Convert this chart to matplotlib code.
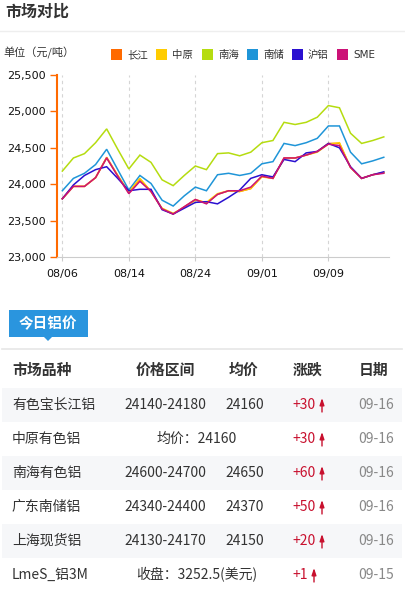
import matplotlib
matplotlib.use("Agg")
import matplotlib.pyplot as plt
from matplotlib.patches import Rectangle, Polygon

plt.rcParams['font.family'] = ['Noto Sans CJK SC', 'DejaVu Sans']

# chart data (yuan/ton), 30 trading days
tick_labels = ["08/06", "08/14", "08/24", "09/01", "09/09"]
changjiang = [23800, 23970, 23970, 24090, 24370, 24120, 23880, 24070, 23900, 23660,
              23590, 23690, 23790, 23740, 23860, 23910, 23900, 23940, 24110, 24080,
              24360, 24360, 24400, 24450, 24560, 24560, 24230, 24080, 24130, 24160]
zhongyuan = [23800, 23970, 23970, 24090, 24360, 24120, 23890, 24080, 23900, 23670,
             23600, 23680, 23780, 23750, 23870, 23910, 23900, 23940, 24100, 24080,
             24350, 24360, 24400, 24440, 24550, 24570, 24230, 24080, 24130, 24160]
nanhai = [24180, 24360, 24420, 24570, 24760, 24480, 24210, 24400, 24300, 24060,
          23980, 24120, 24250, 24200, 24420, 24430, 24390, 24440, 24570, 24600,
          24850, 24820, 24850, 24920, 25080, 25050, 24700, 24560, 24600, 24650]
nanchu = [23910, 24080, 24150, 24270, 24480, 24200, 23920, 24120, 24010, 23780,
          23700, 23840, 23960, 23910, 24130, 24150, 24120, 24150, 24280, 24310,
          24560, 24530, 24570, 24630, 24800, 24800, 24440, 24280, 24320, 24370]
hulv = [23800, 23990, 24120, 24200, 24240, 24080, 23910, 23930, 23930, 23650,
        23590, 23670, 23750, 23760, 23730, 23820, 23920, 24080, 24130, 24100,
        24340, 24310, 24430, 24450, 24560, 24500, 24240, 24080, 24130, 24170]
sme = [23800, 23970, 23970, 24090, 24360, 24110, 23870, 24040, 23900, 23660,
       23590, 23690, 23790, 23730, 23860, 23910, 23910, 23960, 24110, 24080,
       24360, 24360, 24400, 24450, 24550, 24530, 24230, 24080, 24130, 24150]

series_names = ["长江", "中原", "南海", "南储", "沪铝", "SME"]
series_colors = ["#ff6a00", "#ffcc00", "#b5dc10", "#1f95d8", "#2a10d0", "#cc1177"]

# table data
headers = ["市场品种", "价格区间", "均价", "涨跌", "日期"]
markets = ["有色宝长江铝", "中原有色铝", "南海有色铝", "广东南储铝", "上海现货铝", "LmeS_铝3M"]
ranges = ["24140-24180", "", "24600-24700", "24340-24400", "24130-24170", ""]
avgs = ["24160", "", "24650", "24370", "24150", ""]
merged = ["", "均价：24160", "", "", "", "收盘：3252.5(美元)"]
changes = ["+30", "+30", "+60", "+50", "+20", "+1"]
dates = ["09-16", "09-16", "09-16", "09-16", "09-16", "09-15"]

W, H = 405, 591
fig = plt.figure(figsize=(W / 100, H / 100), dpi=100)

# page overlay in pixel coordinates
bg = fig.add_axes([0, 0, 1, 1])
bg.set_xlim(0, W)
bg.set_ylim(H, 0)
bg.axis("off")

bg.text(5, 12, "市场对比", fontsize=11.5, fontweight="bold", color="#333333", va="center")
bg.plot([0, W], [31, 31], color="#eeeeee", lw=1)
bg.text(3, 53, "单位（元/吨）", fontsize=8, color="#333333", va="center")

lx = [111, 156, 202, 247, 292, 337]
for x, name, c in zip(lx, series_names, series_colors):
    bg.add_patch(Rectangle((x, 49), 11, 11, color=c, lw=0))
    bg.text(x + 16, 55, name, fontsize=7.5, color="#333333", va="center",
            family=["DejaVu Sans", "Noto Sans CJK SC"] if name == "SME" else None)

# tag
bg.add_patch(Rectangle((9, 310), 79, 27, color="#2a95de", lw=0))
bg.add_patch(Polygon([(44, 337), (52, 337), (48, 341)], color="#2a95de", lw=0))
bg.text(48, 323.5, "今日铝价", fontsize=10.5, fontweight="bold", color="white",
        ha="center", va="center")
bg.plot([2, 402], [349, 349], color="#e6e6e6", lw=1.2)

hx = [12, 165, 244, 308, 374]
has = ["left", "center", "center", "center", "center"]
for x, h, a in zip(hx, headers, has):
    bg.text(x, 370, h, fontsize=10.7, fontweight="bold", color="#333333",
            ha=a, va="center")

red = "#c8102e"
row_h = 34
for i in range(len(markets)):
    top = 388 + i * row_h
    cy = top + row_h / 2
    if i % 2 == 0:
        bg.add_patch(Rectangle((2, top), 400, row_h, color="#f6f7f9", lw=0))
    bg.text(12, cy, markets[i], fontsize=10, color="#333333", va="center")
    if merged[i]:
        bg.text(197, cy, merged[i], fontsize=10, color="#333333", ha="center", va="center")
    else:
        bg.text(165, cy, ranges[i], fontsize=10, color="#333333", ha="center", va="center")
        bg.text(245, cy, avgs[i], fontsize=10, color="#333333", ha="center", va="center")
    bg.text(292, cy, changes[i], fontsize=10, color=red, ha="left", va="center")
    ax_x = 322 if len(changes[i]) > 2 else 314
    bg.annotate("", xy=(ax_x, cy - 7), xytext=(ax_x, cy + 7),
                arrowprops=dict(arrowstyle="-|>,head_length=0.45,head_width=0.15",
                                color=red, lw=1.0, mutation_scale=9,
                                shrinkA=0, shrinkB=0))
    bg.text(376, cy, dates[i], fontsize=10, color="#888888", ha="center", va="center")

# chart
ax = fig.add_axes([57 / W, 1 - 257 / H, (389 - 57) / W, (257 - 75) / H])
x = list(range(len(nanhai)))
order = [(nanhai, 2), (nanchu, 3), (changjiang, 0), (zhongyuan, 1), (hulv, 4), (sme, 5)]
for ys, k in order:
    ax.plot(x, ys, color=series_colors[k], lw=1.1, solid_joinstyle="miter")

ax.set_xlim(-0.48, 29.47)
ax.set_ylim(23000, 25500)
ax.set_yticks(range(23000, 25501, 500))
ax.set_yticklabels([f"{v:,}" for v in range(23000, 25501, 500)],
                   family="DejaVu Sans", fontsize=8, color="#111111")
ax.set_xticks(range(0, 30, 6))
ax.set_xticklabels(tick_labels, family="DejaVu Sans", fontsize=8, color="#111111")
for xt in range(0, 30, 6):
    ax.axvline(xt, color="#d5d5d5", lw=0.8, ls=(0, (3, 3)), zorder=0)

for s in ["top", "right"]:
    ax.spines[s].set_visible(False)
ax.spines["left"].set_color("#ff6a00")
ax.spines["left"].set_linewidth(1.5)
ax.spines["bottom"].set_color("#cccccc")
ax.tick_params(axis="y", colors="#ff6a00", length=5, width=1, pad=3, labelcolor="#111111")
ax.tick_params(axis="x", colors="#cccccc", length=3, width=0.8, pad=6, labelcolor="#111111")
ax.patch.set_alpha(0)

fig.savefig("out.png", dpi=100)
